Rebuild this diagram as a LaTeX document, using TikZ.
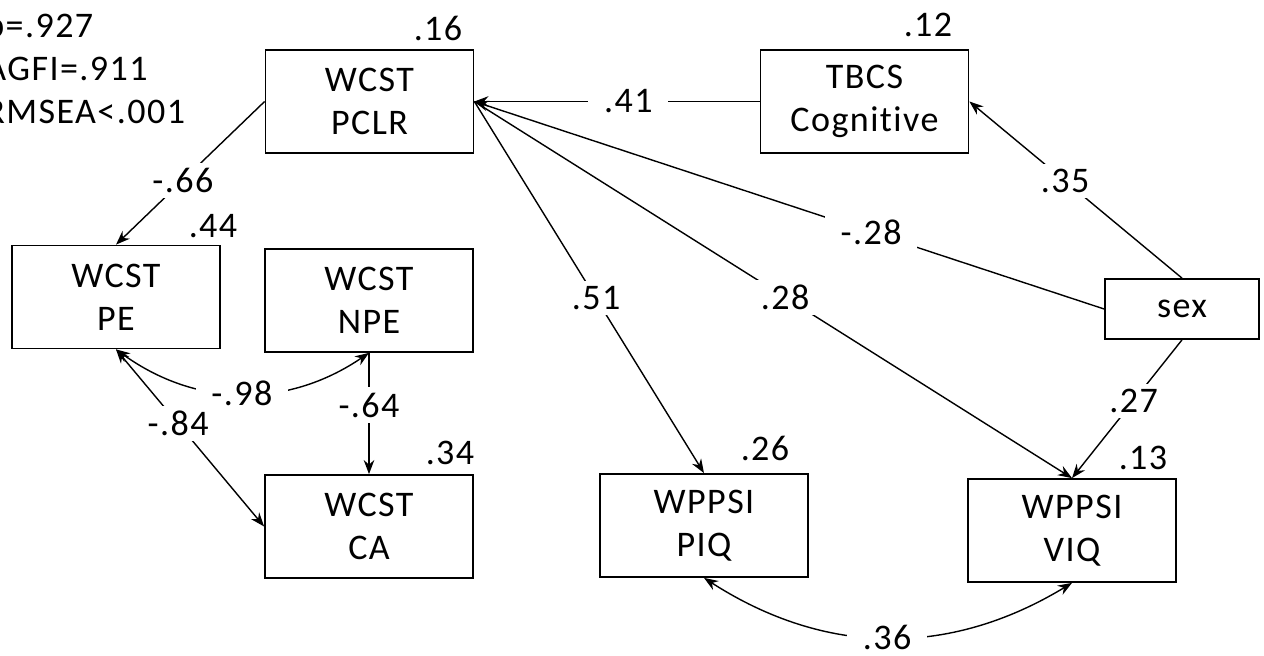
\documentclass[tikz,border=0pt]{standalone}
\usepackage{fontspec}
\setmainfont[Ligatures = NoCommon, LetterSpace = 4]{Carlito}
\usetikzlibrary{arrows.meta, positioning}

\tikzset{
	var/.style = {draw, line width = 1pt, minimum width = 4.16cm, minimum height = 2.06cm, align = center, inner sep = 2pt},
	coef/.style = {fill = white, inner xsep = 9pt, inner ysep = 3pt},
	effect/.style = {line width = 0.8pt, -{Stealth[length = 8pt, width = 6pt]}},
	corr/.style = {line width = 0.8pt, {Stealth[length = 8pt, width = 6pt]}-{Stealth[length = 8pt, width = 6pt]}}
}

\begin{document}
\begin{tikzpicture}[font = \fontsize{20.5}{24.5}\selectfont]
		\useasboundingbox (0,0) rectangle (25.28,-13.1);
		% fit indices
		\node[anchor = north west, align = left, inner sep = 0pt] (fit) at (-0.3,-0.28) {p=.927\\AGFI=.911\\RMSEA<.001};
		% variables
		\node[var] (pclr) at (7.39,-2.03) {WCST\\PCLR};
		\node[var] (tbcs) at (17.29,-2.03) {TBCS\\Cognitive};
		\node[var] (pe) at (2.32,-5.94) {WCST\\PE};
		\node[var] (npe) at (7.38,-6.01) {WCST\\NPE};
		\node[var] (ca) at (7.38,-10.53) {WCST\\CA};
		\node[var] (piq) at (14.08,-10.51) {WPPSI\\PIQ};
		\node[var] (viq) at (21.44,-10.61) {WPPSI\\VIQ};
		\node[var, minimum width = 3.08cm, minimum height = 1.2cm] (sex) at (23.64,-6.18) {sex};
		% explained variance
		\node (r2pclr) at (8.76,-0.56) {.16};
		\node (r2tbcs) at (18.56,-0.5) {.12};
		\node (r2pe) at (4.26,-4.52) {.44};
		\node (r2ca) at (9.0,-9.06) {.34};
		\node (r2piq) at (15.3,-8.96) {.26};
		\node (r2viq) at (22.86,-9.16) {.13};
		% paths
		\draw[effect] (pclr.west) -- node[coef, pos = 0.55] (c66) {-.66} (pe.north);
		\draw[effect] (tbcs.west) -- node[coef, pos = 0.46] (c41) {.41} (pclr.east);
		\draw[effect] (sex.west) -- node[coef, pos = 0.37] (c28a) {-.28} (pclr.east);
		\draw[effect] (sex.north) -- node[coef, pos = 0.55] (c35) {.35} (tbcs.east);
		\draw[effect] (sex.south) -- node[coef, pos = 0.44] (c27) {.27} (viq.north);
		\draw[effect] (pclr.east) -- node[coef, pos = 0.53] (c51) {.51} (piq.north);
		\draw[effect] (pclr.east) -- node[coef, pos = 0.52] (c28b) {.28} (viq.north);
		\draw[effect] (npe.south) -- node[coef, pos = 0.43] (c64) {-.64} (ca.north);
		% correlations
		\draw[corr] (pe.south) -- node[coef, pos = 0.42] (c84) {-.84} (ca.west);
		\draw[corr] (pe.south) to[bend right = 35] node[coef] (c98) {-.98} (npe.south);
		\draw[corr] (piq.south) to[bend right = 32] node[coef] (c36) {.36} (viq.south);
	\end{tikzpicture}
\end{document}
